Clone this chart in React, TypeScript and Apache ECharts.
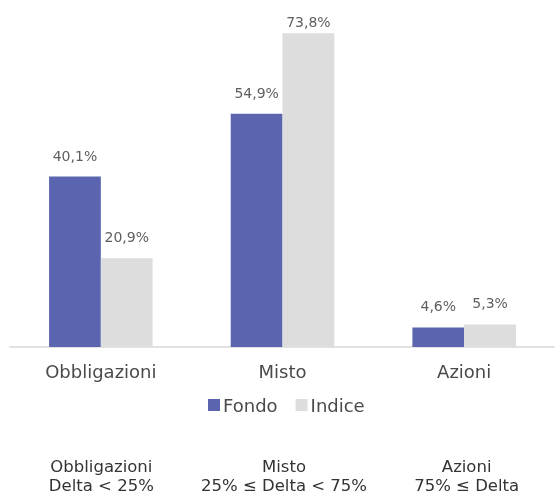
import React, { useEffect, useRef } from "react";
import * as echarts from "echarts";

const categories = ["Obbligazioni", "Misto", "Azioni"];
const fondo = [40.1, 54.9, 4.6];
const indice = [20.9, 73.8, 5.3];
const footLine1 = ["Obbligazioni", "Misto", "Azioni"];
const footLine2 = ["Delta < 25%", "25% ≤ Delta < 75%", "75% ≤ Delta"];

const FONT = "'DejaVu Sans', sans-serif";

export default function App() {
  const ref = useRef<HTMLDivElement>(null);
  useEffect(() => {
    if (!ref.current) return;
    const chart = echarts.init(ref.current, null, { renderer: "svg" });
    const gridLeft = 10;
    const gridWidth = 548;
    const band = gridWidth / categories.length;
    const fmt = (p: any) => String(p.value.toFixed(1)).replace(".", ",") + "%";
    const labelStyle = { show: true, position: "top", distance: 14, formatter: fmt, fontSize: 14, color: "#5f5f5f", fontFamily: FONT };
    const foot = (lines: string[], y: number) =>
      lines.map((t, i) => ({
        type: "text",
        x: gridLeft + band * (i + 0.5),
        y,
        style: {
          text: t,
          textAlign: "center",
          textVerticalAlign: "middle",
          fontSize: 16.5,
          lineHeight: 16,
          fill: "#333333",
          fontFamily: FONT,
        },
      }));
    chart.setOption({
      animation: false,
      textStyle: { fontFamily: FONT },
      grid: { left: gridLeft, width: gridWidth, top: 7, height: 340 },
      legend: {
        data: ["Fondo", "Indice"],
        top: 391,
        left: 203,
        itemWidth: 12,
        itemHeight: 12,
        itemGap: 18,
        icon: "rect",
        textStyle: { fontSize: 18, color: "#4a4a4a", fontFamily: FONT, padding: [0, 0, 0, -2] },
      },
      xAxis: {
        type: "category",
        data: categories,
        axisLine: { lineStyle: { color: "#D9D9D9", width: 1.5 } },
        axisTick: { show: false },
        axisLabel: { fontSize: 18, color: "#4a4a4a", margin: 15, fontFamily: FONT },
      },
      yAxis: { type: "value", min: 0, max: 80, show: false, splitLine: { show: false } },
      series: [
        {
          name: "Fondo",
          type: "bar",
          data: fondo,
          barGap: "0%",
          barCategoryGap: "43%",
          itemStyle: { color: "#5B64AE" },
          label: labelStyle,
        },
        {
          name: "Indice",
          type: "bar",
          data: indice.map((v) => (v > 70 ? { value: v, label: { distance: 4 } } : v)),
          itemStyle: { color: "#DDDDDD" },
          label: labelStyle,
        },
      ],
      graphic: [...foot(footLine1, 466), ...foot(footLine2, 485)],
    });
    return () => chart.dispose();
  }, []);
  return <div ref={ref} style={{ position: "fixed", left: 0, top: 0, width: 555, height: 494 }} />;
}
